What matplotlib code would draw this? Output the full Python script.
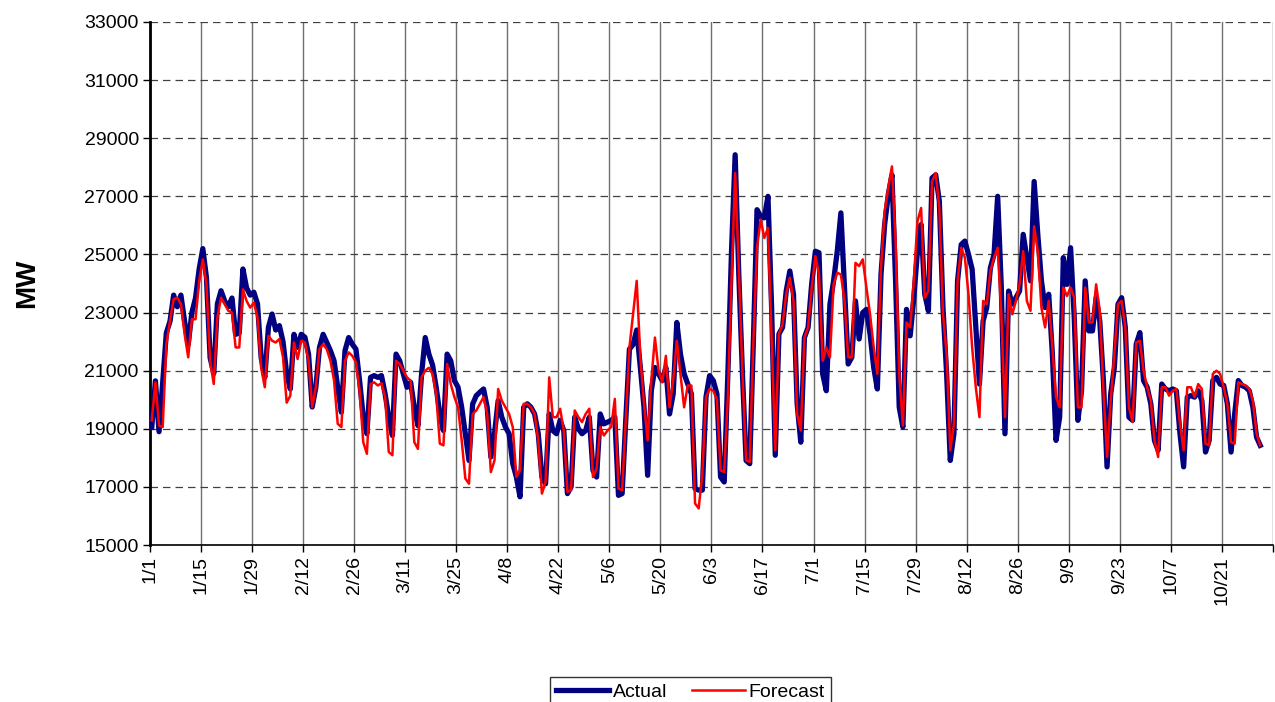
import matplotlib
matplotlib.use("Agg")
import matplotlib.pyplot as plt

plt.rcParams['font.family'] = ['Liberation Sans', 'DejaVu Sans']

# daily load, MW, starting 1/1
actual = [
    19050, 20650, 18900, 20600, 22300, 22700, 23600, 23200, 23600, 22700,
    21900, 23000, 23500, 24500, 25200, 24200, 21450, 20900, 23300, 23750,
    23400, 23200, 23500, 22250, 22300, 24500, 23850, 23600, 23700, 23300,
    21450, 20770, 22500, 22950, 22400, 22550, 22000, 20900, 20370, 22250,
    21800, 22250, 22150, 21570, 19750, 20430, 21800, 22250, 21970, 21690,
    21340, 20430, 19570, 21690, 22140, 21910, 21740, 20660, 19400, 18830,
    20770, 20830, 20770, 20830, 20200, 19400, 18770, 21570, 21340, 20890,
    20430, 20600, 19740, 19110, 20890, 22140, 21570, 21200, 20430, 19510,
    18940, 21570, 21340, 20660, 20430, 19740, 18830, 17910, 19850, 20140,
    20260, 20370, 19740, 18030, 18830, 19970, 19400, 19060, 18830, 17800,
    17340, 16660, 19740, 19860, 19740, 19510, 18830, 17340, 17110, 19510,
    18940, 18830, 19290, 18940, 16770, 17000, 19400, 19000, 18830, 18940,
    19400, 17570, 17340, 19510, 19170, 19230, 19290, 19400, 16710, 16770,
    19300, 21740, 21900, 22400, 21110, 19740, 17400, 20310, 21110, 20890,
    20660, 21110, 19510, 20200, 22660, 21570, 20890, 20540, 20200, 16940,
    16890, 16890, 20090, 20830, 20660, 20200, 17340, 17170, 20890, 25110,
    28430, 24310, 20890, 17910, 17800, 22030, 26540, 26310, 26260, 27000,
    23170, 18090, 22260, 22490, 23740, 24430, 23630, 19860, 18540, 22140,
    22490, 24000, 25110, 25060, 20890, 20310, 23290, 24090, 25110, 26430,
    23860, 21230, 21460, 23400, 22090, 23000, 23110, 22260, 21110, 20370,
    24310, 26030, 27060, 27740, 24090, 19740, 19060, 23110, 22200, 23510,
    25110, 26030, 23630, 23060, 27630, 27740, 26830, 23170, 20890, 17910,
    18830, 24090, 25340, 25460, 25000, 24490, 22490, 20540, 22710, 23170,
    24540, 25000, 27000, 23860, 18830, 23740, 23290, 23510, 23740, 25690,
    24890, 24090, 27510, 25690, 24090, 23170, 23630, 21570, 18600, 19400,
    24890, 23970, 25230, 22830, 19290, 20310, 24090, 22370, 22370, 23510,
    22710, 20660, 17690, 20200, 21110, 23290, 23510, 22490, 19400, 19290,
    21910, 22310, 20660, 20430, 19860, 18600, 18260, 20540, 20370, 20310,
    20370, 20310, 18830, 17690, 20090, 20140, 20090, 20310, 19970, 18200,
    18600, 20660, 20770, 20540, 20490, 19860, 18200, 19510, 20660, 20490,
    20430, 20310, 19740, 18710, 18430,
]

forecast = [
    19290, 20600, 19110, 19060, 21910, 22710, 23460, 23510, 23290, 22260,
    21460, 22770, 22770, 24090, 24830, 23970, 21340, 20540, 22830, 23510,
    23290, 23060, 23000, 21800, 21800, 23800, 23400, 23170, 23340, 22830,
    21100, 20430, 22200, 22030, 21970, 22090, 21460, 19900, 20140, 21970,
    21400, 22030, 21970, 21340, 19740, 20430, 21740, 21910, 21740, 21340,
    20660, 19170, 19060, 21340, 21630, 21510, 21290, 20310, 18540, 18140,
    20540, 20600, 20490, 20570, 20090, 18200, 18090, 21340, 21230, 21000,
    20770, 20660, 18540, 18310, 20770, 21000, 21100, 20890, 20200, 18490,
    18430, 21230, 20540, 20090, 19740, 18600, 17290, 17110, 19510, 19630,
    19860, 20090, 19510, 17510, 17910, 20370, 19970, 19740, 19510, 19060,
    17340, 17570, 19860, 19860, 19740, 19510, 18600, 16770, 17170, 20770,
    19400, 19400, 19690, 18940, 16830, 16890, 19630, 19400, 19230, 19510,
    19690, 17340, 17630, 19060, 18770, 18940, 19060, 20030, 16940, 16890,
    19300, 21800, 22940, 24090, 21460, 19860, 18600, 20660, 22140, 21000,
    20600, 21510, 19740, 20660, 22030, 20890, 19740, 20490, 20490, 16430,
    16260, 17460, 20090, 20370, 20310, 20000, 17570, 17510, 20090, 24090,
    27800, 24540, 20890, 17910, 17860, 22030, 25230, 26200, 25570, 25910,
    22030, 18260, 22260, 22600, 23630, 24200, 23400, 19510, 18940, 22140,
    22490, 23860, 24940, 24310, 21340, 21800, 21460, 23970, 24370, 24310,
    23400, 21460, 21460, 24710, 24600, 24830, 23860, 22940, 21800, 20890,
    24540, 26490, 27290, 28030, 25460, 20890, 19110, 22660, 22490, 24090,
    26140, 26600, 23510, 23740, 27510, 27800, 26600, 22940, 21570, 18260,
    19170, 24090, 25230, 24890, 23630, 21800, 20430, 19400, 23400, 23290,
    24430, 24890, 25230, 22940, 19400, 23630, 22940, 23400, 23970, 25110,
    23400, 23060, 25970, 25110, 23170, 22490, 23400, 21800, 20090, 19740,
    23860, 23570, 23860, 23510, 19740, 19740, 23860, 22660, 22660, 23970,
    23060, 20310, 18030, 19970, 21570, 23290, 23400, 22490, 19740, 19230,
    21970, 22030, 21000, 20430, 19970, 18600, 18030, 20430, 20430, 20140,
    20310, 20370, 19170, 18260, 20430, 20430, 20090, 20540, 20370, 18490,
    18430, 20890, 21000, 20890, 20430, 19860, 18540, 18490, 20600, 20540,
    20490, 20370, 19970, 18830, 18430,
]

date_labels = ["1/1", "1/15", "1/29", "2/12", "2/26", "3/11", "3/25", "4/8",
               "4/22", "5/6", "5/20", "6/3", "6/17", "7/1", "7/15", "7/29",
               "8/12", "8/26", "9/9", "9/23", "10/7", "10/21"]

days = [i + 0.5 for i in range(len(actual))]

fig = plt.figure(figsize=(12.75, 7.02), dpi=100)
ax = fig.add_axes([0.1176, 0.2236, 0.8808, 0.7451])

ax.plot(days, actual, color='#000080', lw=3.8, solid_joinstyle='round', label='Actual', zorder=3)
ax.plot(days, forecast, color='#FF0000', lw=1.8, label='Forecast', zorder=4)

ax.set_ylim(15000, 33000)
ax.set_yticks(range(15000, 33001, 2000))
ax.set_xlim(0, 308)
ax.set_xticks(range(0, 309, 14))
ax.set_xticklabels(date_labels + [""], rotation=90)

ax.yaxis.grid(True, color='#404040', ls=(0, (6, 4)), lw=0.9)
ax.xaxis.grid(True, color='#707070', ls='-', lw=1.0)
ax.set_axisbelow(True)

for side in ('top', 'right'):
    ax.spines[side].set_visible(False)
ax.spines['left'].set_linewidth(2.0)
ax.spines['bottom'].set_linewidth(1.2)
ax.tick_params(axis='both', direction='out', length=5, width=1, labelsize=14, pad=3)

ax.set_ylabel('MW', fontsize=20, fontweight='bold', labelpad=32)

leg = fig.legend(loc='upper center', bbox_to_anchor=(0.5416, 0.049), ncol=2,
                 fontsize=14, frameon=True, fancybox=False, edgecolor='black',
                 handlelength=2.7, handletextpad=0.2, columnspacing=1.3,
                 borderpad=0.3)
leg.get_frame().set_linewidth(1.0)

fig.savefig('out.png', dpi=100)
